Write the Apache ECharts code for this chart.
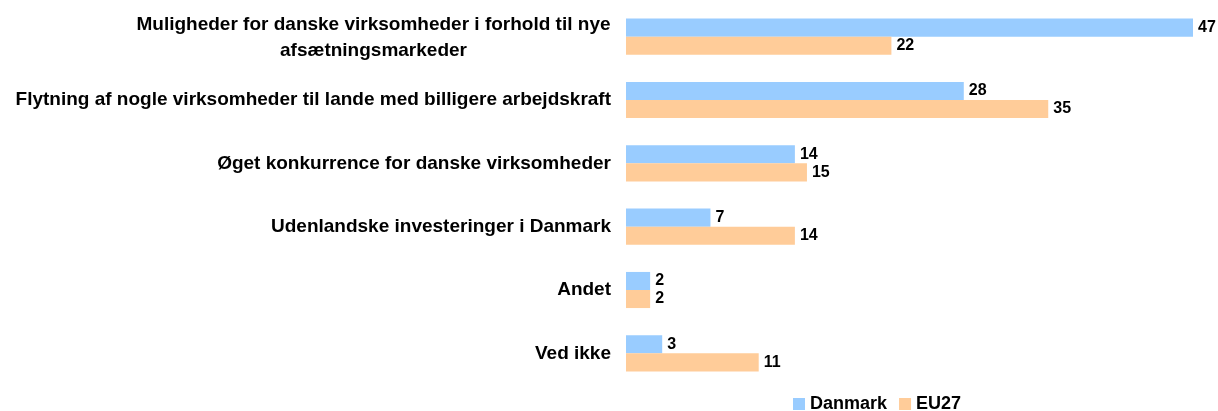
<!DOCTYPE html>
<html>
<head>
<meta charset="utf-8">
<script src="https://cdn.jsdelivr.net/npm/echarts@6/dist/echarts.min.js"></script>
<style>
  html, body { margin: 0; padding: 0; background: #fff; }
  #chart { width: 1218px; height: 411px; }
</style>
</head>
<body>
<div id="chart"></div>
<script>
var categories = [
  'Muligheder for danske virksomheder i forhold til nye\nafsætningsmarkeder',
  'Flytning af nogle virksomheder til lande med billigere arbejdskraft',
  'Øget konkurrence for danske virksomheder',
  'Udenlandske investeringer i Danmark',
  'Andet',
  'Ved ikke'
];
var danmark = [47, 28, 14, 7, 2, 3];
var eu27 = [22, 35, 15, 14, 2, 11];

var catFont = 'bold 19px "Liberation Sans"';
// widest line of a wrapped label, so its lines can be centred on each other
function lineWidth(s) {
  var c = document.createElement('canvas').getContext('2d');
  c.font = catFont;
  return Math.ceil(c.measureText(s).width);
}

var myChart = echarts.init(document.getElementById('chart'));
var labelStyle = {
  show: true,
  position: 'right',
  distance: 5,
  color: '#000',
  fontFamily: 'Liberation Sans',
  fontWeight: 'bold',
  fontSize: 16
};
var richCat = {};
var option = {
  animation: false,
  textStyle: { fontFamily: 'Liberation Sans' },
  grid: { left: 626, width: 567, top: 5, bottom: 26, containLabel: false },
  legend: {
    left: 788,
    top: 390,
    itemWidth: 12,
    itemHeight: 12,
    itemGap: 12,
    icon: 'rect',
    textStyle: { color: '#000', fontWeight: 'bold', fontSize: 18, fontFamily: 'Liberation Sans' },
    data: ['Danmark', 'EU27']
  },
  xAxis: {
    type: 'value',
    min: 0,
    max: 47,
    show: false
  },
  yAxis: {
    type: 'category',
    inverse: true,
    data: categories,
    axisLine: { show: false },
    axisTick: { show: false },
    axisLabel: {
      color: '#000',
      fontWeight: 'bold',
      fontSize: 19,
      fontFamily: 'Liberation Sans',
      margin: 15,
      align: 'right',
      formatter: function (v) {
        var lines = v.split('\n');
        if (lines.length === 1) return v;
        var w = Math.max.apply(null, lines.map(lineWidth));
        return lines.map(function (l, i) {
          return '{' + (i === 0 ? 'f' : 'c') + w + '|' + l + '}';
        }).join('\n');
      },
      rich: richCat
    }
  },
  series: [
    {
      name: 'Danmark',
      type: 'bar',
      data: danmark,
      barGap: '0%',
      barCategoryGap: '43%',
      itemStyle: { color: '#99ccff' },
      label: labelStyle
    },
    {
      name: 'EU27',
      type: 'bar',
      data: eu27,
      itemStyle: { color: '#ffcc99' },
      label: labelStyle
    }
  ]
};
// rich styles for wrapped category labels
categories.forEach(function (v) {
  var lines = v.split('\n');
  if (lines.length > 1) {
    var w = Math.max.apply(null, lines.map(lineWidth));
    var base = {
      width: w,
      align: 'center',
      lineHeight: 24,
      color: '#000',
      fontWeight: 'bold',
      fontSize: 19,
      fontFamily: 'Liberation Sans'
    };
    richCat['f' + w] = Object.assign({}, base, { lineHeight: 28 });
    richCat['c' + w] = base;
  }
});
myChart.setOption(option);
</script>
</body>
</html>
